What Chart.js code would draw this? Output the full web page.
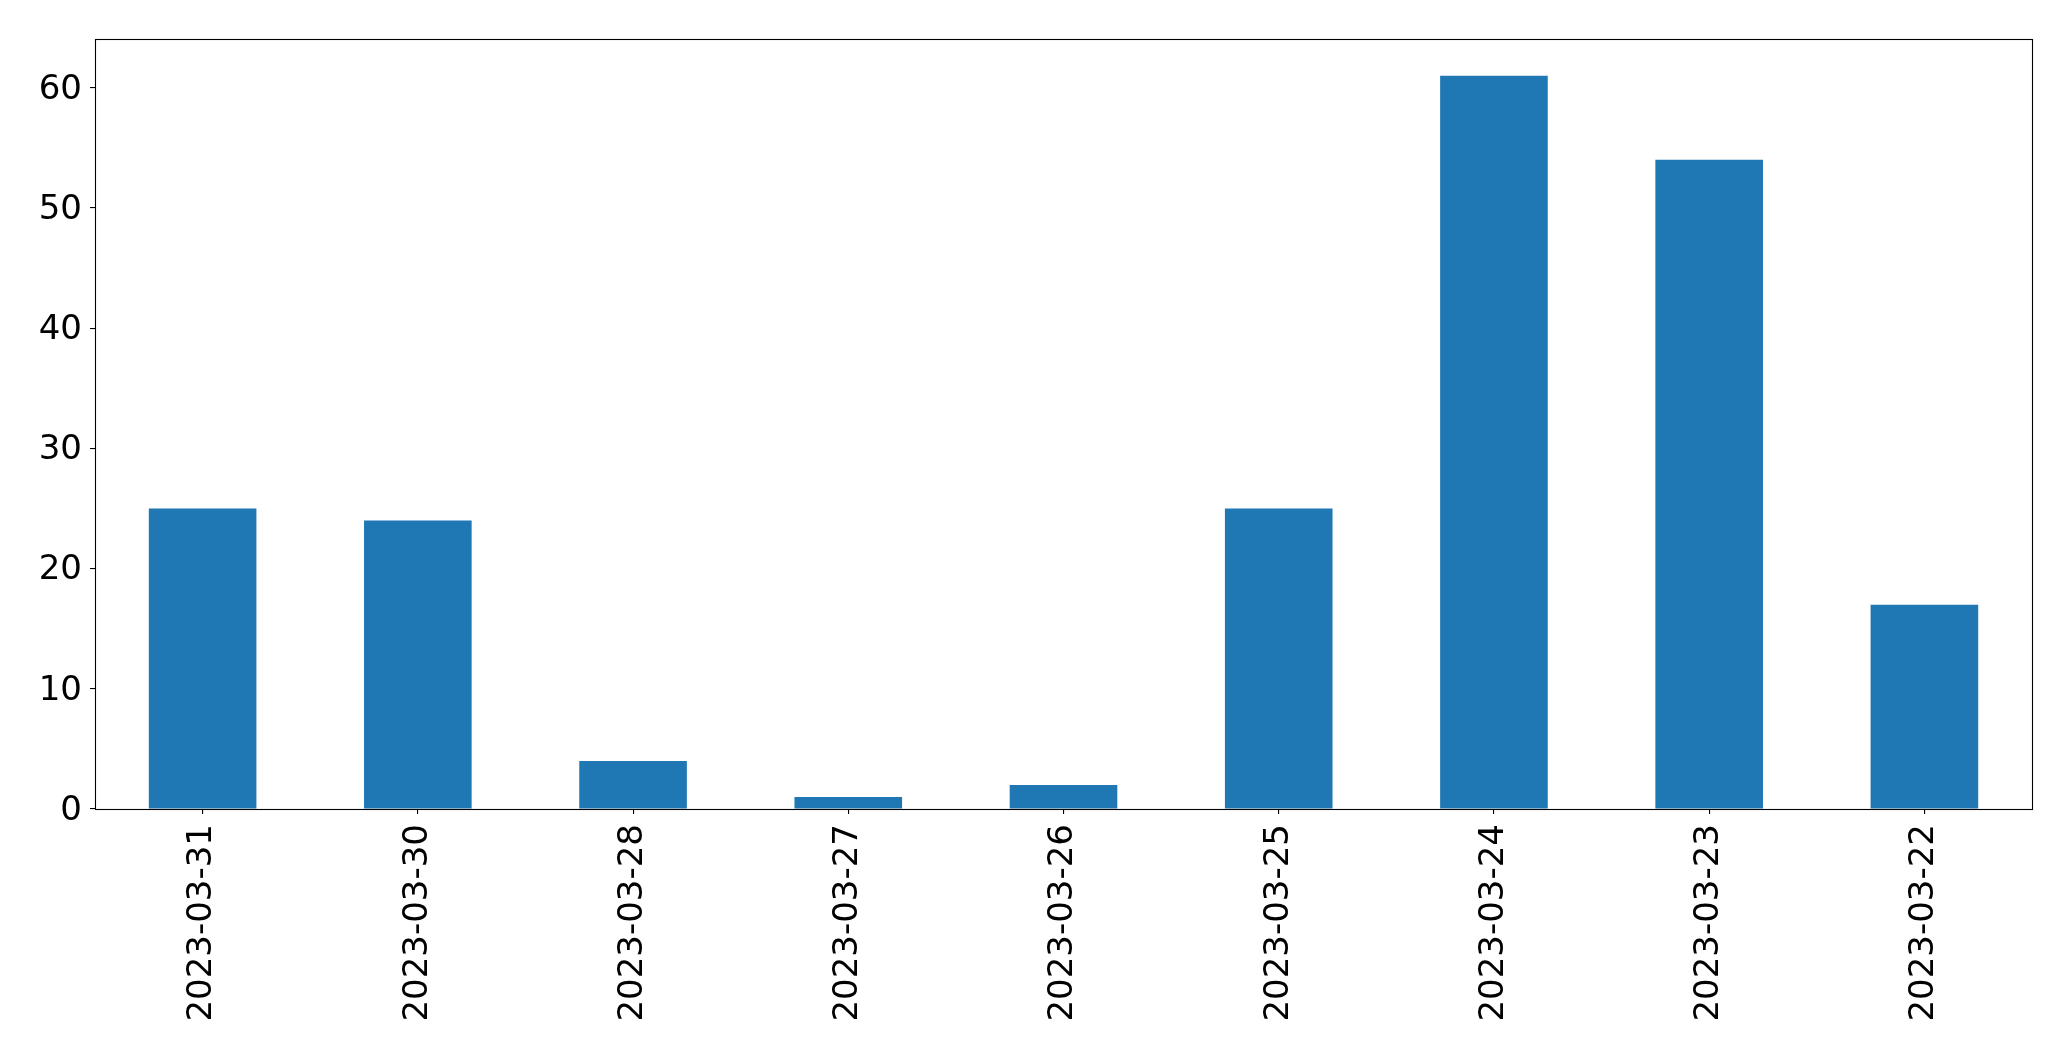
<!DOCTYPE html>
<html>
<head>
<meta charset="utf-8">
<script src="https://cdn.jsdelivr.net/npm/chart.js@4"></script>
<style>
html,body{margin:0;padding:0;background:#fff;}
#wrap{width:2071px;height:1061px;}
</style>
</head>
<body>
<div id="wrap"><canvas id="c" width="2071" height="1061"></canvas></div>
<script>
const categories = ["2023-03-31","2023-03-30","2023-03-28","2023-03-27","2023-03-26","2023-03-25","2023-03-24","2023-03-23","2023-03-22"];
const values = [25, 24, 4, 1, 2, 25, 61, 54, 17];
const yTicks = [0, 10, 20, 30, 40, 50, 60];
const yMax = 64.05;

const framePlugin = {
  id: 'frame',
  afterDatasetsDraw(chart) {
    const a = chart.chartArea, ctx = chart.ctx;
    ctx.save();
    ctx.strokeStyle = '#000';
    ctx.lineWidth = 1.1;
    ctx.strokeRect(Math.round(a.left) + 0.5, Math.round(a.top) + 0.5, Math.round(a.right - a.left), Math.round(a.bottom - a.top));
    ctx.restore();
  }
};

const font = { family: 'DejaVu Sans', size: 34 };

new Chart(document.getElementById('c'), {
  type: 'bar',
  data: {
    labels: categories,
    datasets: [{
      data: values,
      backgroundColor: '#1f77b4',
      borderWidth: 0,
      categoryPercentage: 1.0,
      barPercentage: 0.5
    }]
  },
  options: {
    responsive: false,
    animation: false,
    devicePixelRatio: 1,
    layout: { padding: { left: 0, top: 39, right: 39, bottom: 0 } },
    plugins: { legend: { display: false }, tooltip: { enabled: false } },
    scales: {
      x: {
        offset: true,
        grid: { display: true, drawOnChartArea: false, offset: false, tickLength: 5, color: '#000', lineWidth: 1.1 },
        border: { display: false },
        ticks: { color: '#000', font: font, minRotation: 90, maxRotation: 90, autoSkip: false, padding: 10 },
        afterFit(s) { s.height = 252; }
      },
      y: {
        min: 0,
        max: yMax,
        grid: { display: true, drawOnChartArea: false, tickLength: 5, color: '#000', lineWidth: 1.1 },
        border: { display: false },
        ticks: { color: '#000', font: font, padding: 8, labelOffset: 2 },
        afterBuildTicks(s) { s.ticks = yTicks.map(v => ({ value: v })); },
        afterFit(s) { s.width = 95; }
      }
    }
  },
  plugins: [framePlugin]
});
</script>
</body>
</html>
